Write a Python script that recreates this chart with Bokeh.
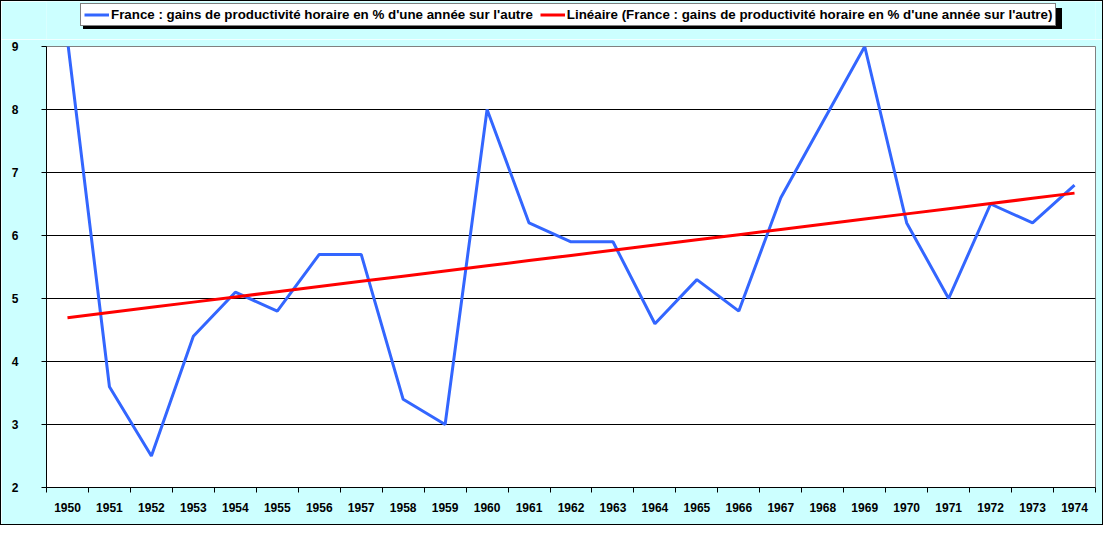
import numpy as np
from bokeh.plotting import figure
from bokeh.layouts import column
from bokeh.models import Range1d, FixedTicker, Legend, LegendItem
from bokeh.embed import file_html
from bokeh.resources import INLINE

# ---- data ----
years = list(range(1950, 1975))
gains = [9.1, 3.6, 2.5, 4.4, 5.1, 4.8, 5.7, 5.7, 3.4, 3.0, 8.0, 6.2, 5.9,
         5.9, 4.6, 5.3, 4.8, 6.6, 7.8, 9.0, 6.2, 5.0, 6.5, 6.2, 6.8]
y_ticks = [2, 3, 4, 5, 6, 7, 8, 9]
series_label = "France : gains de productivité horaire en % d'une année sur l'autre"
trend_label = "Linéaire (France : gains de productivité horaire en % d'une année sur l'autre)"

# linear trend (least squares) computed from the series
slope, intercept = np.polyfit(years, gains, 1)
trend = [slope * y + intercept for y in years]

FONT = "Liberation Sans"
BLUE = "#3366FF"
RED = "#FF0000"
BG = "#CCFFFF"
W = 1101

# ---- main chart ----
p = figure(width=W, height=485,
           x_range=Range1d(years[0] - 0.5, years[-1] + 0.5),
           y_range=Range1d(y_ticks[0], y_ticks[-1]),
           output_backend="svg", toolbar_location=None,
           min_border_left=45, min_border_right=7,
           min_border_top=7, min_border_bottom=37)
p.background_fill_color = "white"
p.border_fill_color = BG
p.outline_line_color = "#808080"
p.outline_line_width = 1

p.xaxis.ticker = FixedTicker(ticks=years,
                             minor_ticks=[y - 0.5 for y in years] + [years[-1] + 0.5])
p.xaxis.major_tick_out = 0
p.xaxis.major_tick_in = 0
p.xaxis.minor_tick_in = 0
p.xaxis.minor_tick_out = 5
p.xaxis.minor_tick_line_color = "black"
p.xaxis.major_label_standoff = 10

p.yaxis.ticker = FixedTicker(ticks=y_ticks)
p.yaxis.major_tick_out = 5
p.yaxis.major_tick_in = 0
p.yaxis.minor_tick_line_color = None
p.yaxis.major_label_standoff = 23

for ax in (p.xaxis, p.yaxis):
    ax.axis_line_color = "black"
    ax.major_tick_line_color = "black"
    ax.major_label_text_font = FONT
    ax.major_label_text_font_style = "bold"
    ax.major_label_text_font_size = "12px"
    ax.major_label_text_color = "black"

p.xgrid.grid_line_color = None
p.ygrid.ticker = FixedTicker(ticks=y_ticks[1:-1])
p.ygrid.grid_line_color = "black"
p.ygrid.grid_line_width = 1

p.line(years, gains, line_color=BLUE, line_width=3)
p.line(years, trend, line_color=RED, line_width=3)

# ---- legend strip (keys share the series styles) ----
top = figure(width=W, height=38, x_range=Range1d(0, 1), y_range=Range1d(0, 1),
             x_axis_location=None, y_axis_location=None,
             output_backend="svg", toolbar_location=None,
             min_border_left=0, min_border_right=0,
             min_border_top=0, min_border_bottom=0)
top.grid.grid_line_color = None
top.outline_line_color = None
top.background_fill_color = BG
top.border_fill_color = BG

# single-point lines draw nothing; they only supply the legend keys
k_main = top.line([years[0]], [gains[0]], line_color=BLUE, line_width=3)
k_trend = top.line([years[0]], [trend[0]], line_color=RED, line_width=3)
k_shadow = top.line([years[0]], [gains[0]], line_alpha=0)

common = dict(orientation="horizontal", label_text_font=FONT,
              label_text_font_style="bold", label_text_font_size="10pt",
              glyph_width=25, glyph_height=13, label_height=13,
              label_standoff=2, spacing=7, padding=3, margin=0,
              border_line_color="black", border_line_width=1)

# the column aligns this strip's frame with the chart frame (left = 45 px)
LX, LY = 34, 13
shadow = Legend(items=[LegendItem(label=" ", renderers=[k_shadow])],
                location=(LX + 3, LY - 3), background_fill_color="black",
                background_fill_alpha=1, label_width=944, **common)
legend = Legend(items=[LegendItem(label=series_label, renderers=[k_main]),
                       LegendItem(label=trend_label, renderers=[k_trend])],
                location=(LX, LY), background_fill_color="white",
                background_fill_alpha=1, label_text_color="black", **common)
top.add_layout(shadow, "center")
top.add_layout(legend, "center")

page = column(top, p, spacing=0, styles={"border": "1px solid black"})

open("out.html", "w").write(file_html(page, INLINE))
